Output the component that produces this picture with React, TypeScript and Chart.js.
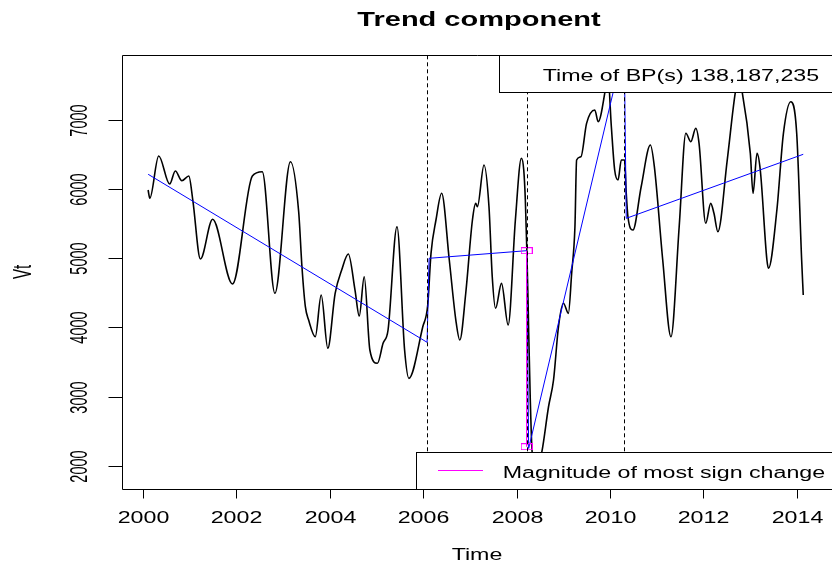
import React, { useEffect, useRef } from "react";
import { Chart, registerables } from "chart.js";
Chart.register(...registerables);

// ---- data ----
const timeYears = [
  2000.119, 2000.155, 2000.346, 2000.58, 2000.701, 2000.841, 2000.99, 2001.075, 2001.238, 2001.499,
  2001.924, 2002.349, 2002.561, 2002.831, 2003.164, 2003.34, 2003.41, 2003.483, 2003.553, 2003.695,
  2003.822, 2003.963, 2004.12, 2004.26, 2004.402, 2004.545, 2004.636, 2004.742, 2004.863, 2005.024,
  2005.145, 2005.252, 2005.443, 2005.606, 2005.698, 2005.995, 2006.101, 2006.171, 2006.277, 2006.398,
  2006.562, 2006.702, 2006.787, 2006.914, 2007.057, 2007.127, 2007.163, 2007.305, 2007.411, 2007.481,
  2007.552, 2007.679, 2007.821, 2007.976, 2008.104, 2008.155, 2008.189, 2008.219, 2008.246, 2008.261,
  2008.295, 2008.331, 2008.416, 2008.543, 2008.685, 2008.792, 2008.898, 2009.004, 2009.11, 2009.18,
  2009.25, 2009.286, 2009.378, 2009.499, 2009.675, 2009.747, 2009.887, 2009.95, 2010.029, 2010.1,
  2010.172, 2010.242, 2010.312, 2010.348, 2010.384, 2010.49, 2010.667, 2010.864, 2010.949, 2011.128,
  2011.304, 2011.48, 2011.623, 2011.729, 2011.835, 2011.905, 2012.048, 2012.154, 2012.224, 2012.308,
  2012.508, 2012.684, 2012.755, 2012.826, 2013.002, 2013.06, 2013.145, 2013.215, 2013.357, 2013.391,
  2013.57, 2013.71, 2013.867, 2013.994, 2014.1, 2014.134,
];
const vtValues = [
  5988, 5868, 6479, 6074, 6262, 6122, 6190, 5843, 4990, 5564,
  4628, 6190, 6252, 4494, 6397, 5674, 4878, 4300, 4107, 3866,
  4469, 3698, 4494, 4831, 5062, 4541, 4165, 4734, 3674, 3481,
  3770, 3963, 5457, 3674, 3264, 4010, 4324, 5072, 5554, 5940,
  4975, 4107, 3818, 4494, 5554, 5795, 5746, 6349, 5746, 4734,
  4277, 4638, 4035, 5554, 6446, 6277, 5843, 5168, 4421, 3919,
  2950, 2227, 1891, 2203, 2853, 3240, 4010, 4349, 4204, 4783,
  5457, 6421, 6469, 6952, 7145, 6975, 7386, 7704, 6903, 6277,
  6132, 6421, 6421, 5940, 5601, 5409, 6035, 6638, 6325, 4975,
  3866, 5457, 6808, 6686, 6880, 6663, 5506, 5795, 5651, 5385,
  6421, 7409, 7600, 7409, 6518, 5940, 6518, 6277, 4975, 4855,
  5698, 6808, 7265, 6808, 4975, 4469,
];
const trendYears = [2000.12, 2006.087, 2006.13, 2008.217, 2008.26, 2010.304, 2010.348, 2014.134];
const trendValues = [6215, 3785, 5000, 5110, 2250, 8075, 5578, 6504];
const breakYears = [2006.087, 2008.217, 2010.304];
const breakIndices = [138, 187, 235];
const magYears = [2008.217, 2008.217];
const magValues = [5110, 2275];
const xTicks = [2000, 2002, 2004, 2006, 2008, 2010, 2012, 2014];
const yTicks = [2000, 3000, 4000, 5000, 6000, 7000];
const titleText = "Trend component";
const xTitle = "Time";
const yTitle = "Vt";
const bpLegend = "Time of BP(s) " + breakIndices.join(",");
const magLegend = "Magnitude of most sign change";

const FONT = '"Liberation Sans", Arial, sans-serif';
const SX = 1.45; // horizontal stretch of the reference text
const SY_ROT = 1.7;

function hText(ctx: CanvasRenderingContext2D, t: string, x: number, y: number, size: number, align: CanvasTextAlign, bold = false) {
  ctx.save();
  ctx.translate(x, y);
  ctx.scale(SX, 1);
  ctx.font = `${bold ? "bold " : ""}${size}px ${FONT}`;
  ctx.fillStyle = "#000";
  ctx.textAlign = align;
  ctx.textBaseline = "alphabetic";
  ctx.fillText(t, 0, 0);
  ctx.restore();
}

function vText(ctx: CanvasRenderingContext2D, t: string, x: number, y: number, size: number) {
  ctx.save();
  ctx.translate(x, y);
  ctx.rotate(-Math.PI / 2);
  ctx.scale(1, SY_ROT);
  ctx.font = `${size}px ${FONT}`;
  ctx.fillStyle = "#000";
  ctx.textAlign = "center";
  ctx.textBaseline = "middle";
  ctx.fillText(t, 0, 0);
  ctx.restore();
}

function makeBox(): HTMLCanvasElement {
  const c = document.createElement("canvas");
  c.width = 12;
  c.height = 7;
  const g = c.getContext("2d")!;
  g.strokeStyle = "#FF00FF";
  g.lineWidth = 1;
  g.strokeRect(0.5, 0.5, 11, 6);
  return c;
}

const decorPlugin = {
  id: "rdecor",
  afterDraw(chart: any) {
    const ctx: CanvasRenderingContext2D = chart.ctx;
    const { left, top, bottom } = chart.chartArea;
    const xs = chart.scales.x;
    const ys = chart.scales.y;
    const W = chart.width;

    // dashed break lines
    ctx.save();
    ctx.strokeStyle = "#000";
    ctx.lineWidth = 1;
    ctx.setLineDash([4, 3]);
    for (const b of breakYears) {
      const px = Math.round(xs.getPixelForValue(b)) + 0.5;
      ctx.beginPath();
      ctx.moveTo(px, top);
      ctx.lineTo(px, bottom);
      ctx.stroke();
    }
    ctx.restore();

    // frame
    ctx.save();
    ctx.strokeStyle = "#000";
    ctx.lineWidth = 1;
    ctx.beginPath();
    ctx.moveTo(W + 5, Math.round(top) + 0.5);
    ctx.lineTo(Math.round(left) + 0.5, Math.round(top) + 0.5);
    ctx.lineTo(Math.round(left) + 0.5, Math.round(bottom) + 0.5);
    ctx.lineTo(W + 5, Math.round(bottom) + 0.5);
    ctx.stroke();

    // x ticks
    for (const t of xTicks) {
      const px = Math.round(xs.getPixelForValue(t)) + 0.5;
      ctx.beginPath();
      ctx.moveTo(px, Math.round(bottom) + 0.5);
      ctx.lineTo(px, Math.round(bottom) + 9.5);
      ctx.stroke();
      hText(ctx, String(t), px, bottom + 33.5, 16, "center");
    }
    // y ticks
    for (const t of yTicks) {
      const py = Math.round(ys.getPixelForValue(t)) + 0.5;
      ctx.beginPath();
      ctx.moveTo(Math.round(left) + 0.5, py);
      ctx.lineTo(Math.round(left) - 13.5, py);
      ctx.stroke();
      vText(ctx, String(t), 80, py, 14.5);
    }
    ctx.restore();

    // legends
    ctx.save();
    ctx.lineWidth = 1;
    ctx.strokeStyle = "#000";
    ctx.fillStyle = "#fff";
    const t1 = Math.round(top) + 0.5;
    ctx.fillRect(499.5, t1, W, 37);
    ctx.strokeRect(499.5, t1, W, 37);
    const b1 = Math.round(bottom) + 0.5;
    ctx.fillStyle = "#fff";
    ctx.fillRect(416.5, b1 - 37, W, 37);
    ctx.strokeRect(416.5, b1 - 37, W, 37);
    ctx.strokeStyle = "#FF00FF";
    ctx.beginPath();
    ctx.moveTo(438, 470.5);
    ctx.lineTo(483, 470.5);
    ctx.stroke();
    ctx.restore();
    hText(ctx, bpLegend, 542.7, 80.7, 16, "left");
    hText(ctx, magLegend, 502.7, 478.3, 16, "left");

    // titles
    hText(ctx, titleText, 479, 25.5, 20, "center", true);
    hText(ctx, xTitle, 477, 560, 16, "center");
    vText(ctx, yTitle, 24, 272, 15);
  },
};

export default function App() {
  const ref = useRef<HTMLCanvasElement>(null);
  useEffect(() => {
    const canvas = ref.current!;
    const box = makeBox();
    const chart = new Chart(canvas, {
      type: "line",
      data: {
        datasets: [
          {
            label: "magnitude",
            data: magYears.map((x, i) => ({ x, y: magValues[i] })),
            borderColor: "#FF00FF",
            borderWidth: 1.2,
            pointStyle: box as any,
            pointRadius: 4,
            order: 0,
          },
          {
            label: "Tt",
            data: trendYears.map((x, i) => ({ x, y: trendValues[i] })),
            borderColor: "#0000FF",
            borderWidth: 1,
            pointRadius: 0,
            order: 1,
          },
          {
            label: "Vt",
            data: timeYears.map((x, i) => ({ x, y: vtValues[i] })),
            borderColor: "#000",
            borderWidth: 1.6,
            pointRadius: 0,
            cubicInterpolationMode: "monotone",
            order: 2,
          },
        ],
      },
      options: {
        animation: false,
        responsive: false,
        devicePixelRatio: 1,
        events: [],
        layout: { padding: { left: 121.7, top: 55.3, right: 0, bottom: 73.7 } },
        elements: { line: { tension: 0 } },
        plugins: { legend: { display: false }, tooltip: { enabled: false }, title: { display: false } },
        scales: {
          x: { type: "linear", display: false, min: 1999.554, max: 2014.638 },
          y: { type: "linear", display: false, min: 1659, max: 7936 },
        },
      },
      plugins: [decorPlugin],
    });
    return () => chart.destroy();
  }, []);
  return (
    <div style={{ position: "fixed", left: 0, top: 0, width: 832, height: 563, overflow: "hidden", background: "#fff" }}>
      <canvas ref={ref} width={832} height={563} style={{ display: "block" }} />
    </div>
  );
}
